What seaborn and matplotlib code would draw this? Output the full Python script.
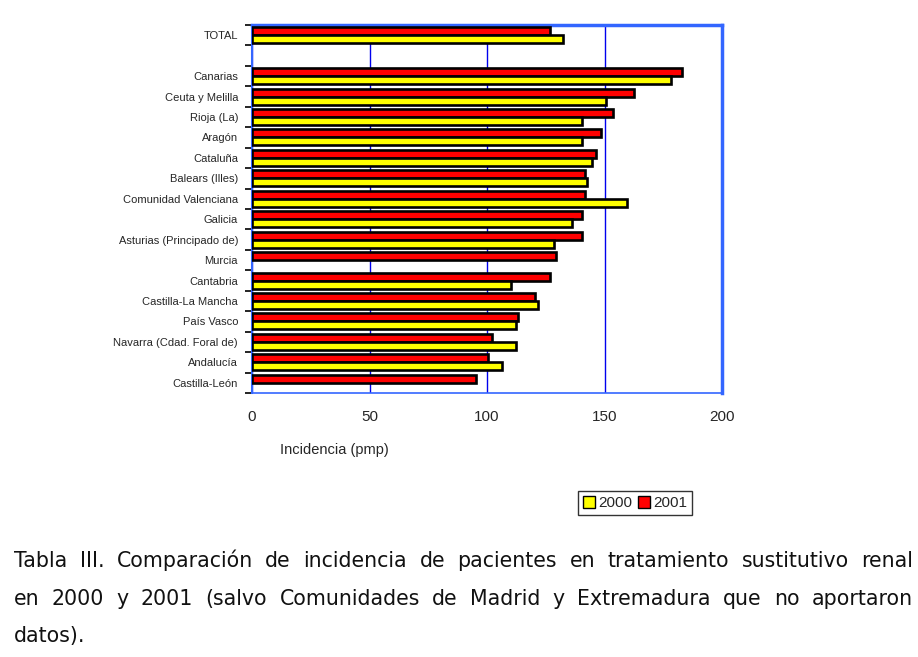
import numpy as np
import pandas as pd
import matplotlib
matplotlib.use("Agg")
import matplotlib.pyplot as plt
import seaborn as sns
from matplotlib.patches import Patch

# data (incidence, pmp)
regions = ["TOTAL", "", "Canarias", "Ceuta y Melilla", "Rioja (La)", "Aragón",
           "Cataluña", "Balears (Illes)", "Comunidad Valenciana", "Galicia",
           "Asturias (Principado de)", "Murcia", "Cantabria", "Castilla-La Mancha",
           "País Vasco", "Navarra (Cdad. Foral de)", "Andalucía", "Castilla-León"]
val_2001 = [127, np.nan, 183, 162.5, 153.5, 148.5, 146.5, 141.5, 141.5, 140.5,
            140.5, 129.5, 127, 120.5, 113, 102, 100.5, 95.5]
val_2000 = [132.5, np.nan, 178.5, 150.5, 140.5, 140.5, 144.5, 142.5, 159.5, 136,
            128.5, np.nan, 110, 121.5, 112.5, 112.5, 106.5, np.nan]
years = ["2001", "2000"]
colors = {"2001": "#FF0000", "2000": "#FFFF00"}

caption = [
    "Tabla III. Comparación de incidencia de pacientes en tratamiento sustitutivo renal",
    "en 2000 y 2001 (salvo Comunidades de Madrid y Extremadura que no aportaron",
    "datos).",
]

df = pd.DataFrame({
    "region": regions * 2,
    "year": ["2001"] * len(regions) + ["2000"] * len(regions),
    "value": val_2001 + val_2000,
})

sns.set_style("white")
plt.rcParams["font.family"] = ["Liberation Sans", "DejaVu Sans"]

W, H = 918, 657
fig = plt.figure(figsize=(W / 100, H / 100), dpi=100)
ax = fig.add_axes([252 / W, 1 - 393 / H, 470 / W, 368 / H])

sns.barplot(data=df, y="region", x="value", hue="year", order=regions,
            hue_order=years, palette=colors, orient="h", width=0.78, saturation=1,
            edgecolor="black", linewidth=1.9, legend=False, ax=ax, zorder=3)

ax.set_xlim(0, 200)
ax.set_ylim(len(regions) - 0.5, -0.5)
ax.set_xticks([0, 50, 100, 150, 200])
ax.tick_params(axis="x", labelsize=11, length=3, color="#3366FF", pad=9)
ax.set_yticks(range(len(regions)))
ax.set_yticklabels(regions, fontsize=8)
ax.tick_params(axis="y", length=0, pad=10)
ax.set_yticks(np.arange(len(regions) + 1) - 0.5, minor=True)
ax.tick_params(axis="y", which="minor", length=5, width=1.2, color="black", left=True)
ax.set_xlabel("")
ax.set_ylabel("")
ax.xaxis.grid(True, color="#0000EE", linewidth=1, zorder=0)
ax.set_axisbelow(True)
for side, lw in [("top", 2.5), ("right", 2.5), ("left", 1.5), ("bottom", 1.2)]:
    ax.spines[side].set_visible(True)
    ax.spines[side].set_color("#3366FF")
    ax.spines[side].set_linewidth(lw)

fig.text(280 / W, 1 - 450 / H, "Incidencia (pmp)", fontsize=10.5, va="center", ha="left")

handles = [Patch(facecolor=colors["2000"], edgecolor="black", label="2000"),
           Patch(facecolor=colors["2001"], edgecolor="black", label="2001")]
fig.legend(handles=handles, ncol=2, loc="center", bbox_to_anchor=(635 / W, 1 - 503 / H),
           fontsize=11, frameon=True, fancybox=False, edgecolor="black",
           handlelength=0.8, handleheight=0.8, handletextpad=0.2, columnspacing=0.4,
           borderpad=0.3, borderaxespad=0)

# justified caption in a Verdana-like face
fig.canvas.draw()
r = fig.canvas.get_renderer()
left_px, right_px = 14, 913
baselines = [567, 605, 642]
for i, (line, yp) in enumerate(zip(caption, baselines)):
    words = line.split()
    ts = [fig.text(0, 1 - yp / H, w, fontsize=14.8, family="DejaVu Sans", va="baseline",
                   color="#111111") for w in words]
    widths = [t.get_window_extent(r).width for t in ts]
    if i < len(caption) - 1 and len(words) > 1:
        gap = (right_px - left_px - sum(widths)) / (len(words) - 1)
    else:
        gap = 7
    x = left_px
    for t, w in zip(ts, widths):
        t.set_x(x / W)
        x += w + gap

fig.savefig("out.png", dpi=100)
